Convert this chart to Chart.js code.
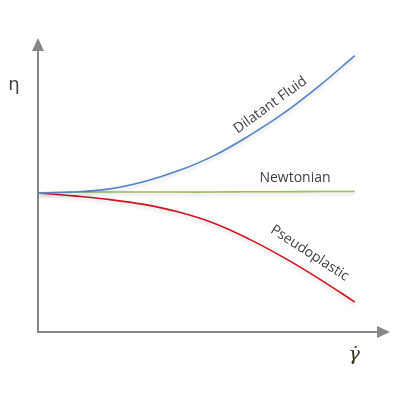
<!DOCTYPE html>
<html>
<head>
<meta charset="utf-8">
<script src="https://cdn.jsdelivr.net/npm/chart.js@4"></script>
<style>
  html, body { margin: 0; padding: 0; background: #fff; }
  #wrap { width: 401px; height: 396px; position: relative; }
</style>
</head>
<body>
<div id="wrap"><canvas id="chart"></canvas></div>
<script>
/* shear rate (arbitrary units) and viscosity of each fluid type */
const shearRate = [0, 1, 2, 3, 4, 5, 6, 7, 8, 9];
const dilatant = [4.73, 4.76, 4.86, 5.11, 5.49, 6.00, 6.68, 7.46, 8.38, 9.40];
const newtonian = [4.73, 4.76, 4.76, 4.76, 4.76, 4.76, 4.77, 4.77, 4.78, 4.78];
const pseudoplastic = [4.73, 4.63, 4.51, 4.34, 4.08, 3.70, 3.16, 2.52, 1.80, 1.02];

const curveLabels = ['Dilatant Fluid', 'Newtonian', 'Pseudoplastic'];
const axisLabels = ['η', 'γ̇'];

const toPoints = ys => ys.map((y, i) => ({ x: shearRate[i], y: y }));

// arrows, axis titles and curve captions
const decorations = {
  id: 'decorations',
  beforeDatasetsDraw(chart) {
    const { ctx, chartArea: a } = chart;
    ctx.save();
    ctx.strokeStyle = '#878787';
    ctx.fillStyle = '#878787';
    ctx.lineWidth = 2;
    ctx.beginPath();
    ctx.moveTo(a.left, a.top + 10);
    ctx.lineTo(a.left, a.bottom);
    ctx.lineTo(a.right - 10, a.bottom);
    ctx.stroke();
    // y arrow head
    ctx.beginPath();
    ctx.moveTo(a.left, a.top);
    ctx.lineTo(a.left - 6, a.top + 13);
    ctx.lineTo(a.left + 6, a.top + 13);
    ctx.closePath();
    ctx.fill();
    // x arrow head
    ctx.beginPath();
    ctx.moveTo(a.right, a.bottom);
    ctx.lineTo(a.right - 13, a.bottom - 6);
    ctx.lineTo(a.right - 13, a.bottom + 6);
    ctx.closePath();
    ctx.fill();
    ctx.restore();

    // soft shadow under the curves
    ctx.save();
    ctx.shadowColor = 'rgba(0,0,0,0.18)';
    ctx.shadowBlur = 4;
    ctx.shadowOffsetY = 2;
  },
  afterDatasetsDraw(chart) {
    const { ctx } = chart;
    ctx.restore();
    const xs = chart.scales.x, ys = chart.scales.y;
    ctx.save();
    ctx.fillStyle = '#404040';
    ctx.textAlign = 'center';
    ctx.textBaseline = 'middle';

    ctx.font = '18px "DejaVu Sans"';
    ctx.fillText(axisLabels[0], 14, 85);
    ctx.font = 'italic 19px "DejaVu Serif"';
    ctx.fillStyle = '#3a3020';
    ctx.fillText(axisLabels[1], xs.getPixelForValue(8.98), ys.getPixelForValue(-0.78));

    ctx.fillStyle = '#404040';
    ctx.font = '14px "Open Sans"';
    const caption = (text, xv, yv, deg) => {
      ctx.save();
      ctx.translate(xs.getPixelForValue(xv), ys.getPixelForValue(yv));
      ctx.rotate(deg * Math.PI / 180);
      ctx.fillText(text, 0, 0);
      ctx.restore();
    };
    caption(curveLabels[0], 6.6, 7.72, -36);
    caption(curveLabels[1], 7.3, 5.23, 0);
    caption(curveLabels[2], 7.72, 2.68, 33);
    ctx.restore();
  }
};

new Chart(document.getElementById('chart'), {
  type: 'line',
  data: {
    datasets: [
      { label: curveLabels[0], data: toPoints(dilatant), borderColor: '#5283c4' },
      { label: curveLabels[1], data: toPoints(newtonian), borderColor: '#9bbb59' },
      { label: curveLabels[2], data: toPoints(pseudoplastic), borderColor: '#d0141e' }
    ].map(d => Object.assign(d, {
      borderWidth: 1.6,
      pointRadius: 0,
      fill: false,
      tension: 0.4
    }))
  },
  options: {
    responsive: true,
    maintainAspectRatio: false,
    animation: false,
    layout: { padding: { left: 38, top: 38, right: 11, bottom: 64 } },
    plugins: { legend: { display: false }, tooltip: { enabled: false } },
    scales: {
      x: { type: 'linear', min: 0, max: 10, display: false },
      y: { type: 'linear', min: 0, max: 10, display: false }
    }
  },
  plugins: [decorations]
});
</script>
</body>
</html>
